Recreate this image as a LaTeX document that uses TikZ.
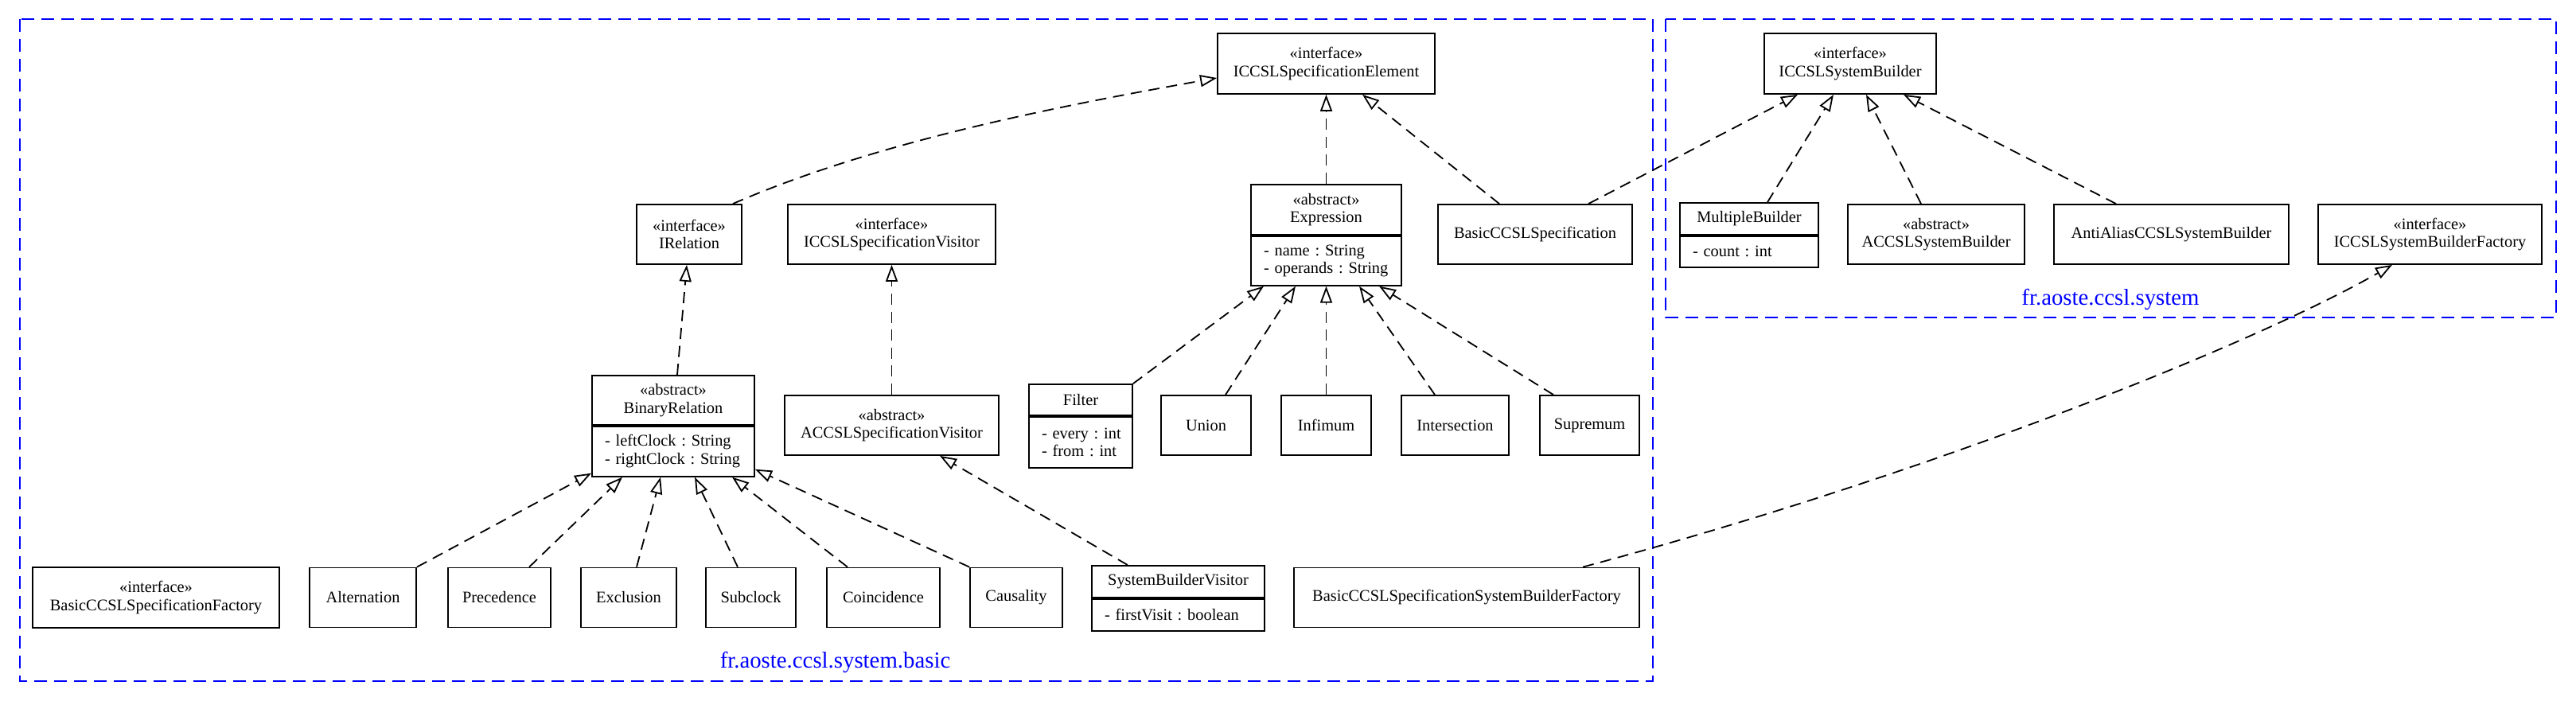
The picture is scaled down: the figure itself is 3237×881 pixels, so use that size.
\documentclass[tikz,border=0pt]{standalone}
\usepackage{fontspec}
\setmainfont{Liberation Serif}
\usetikzlibrary{arrows.meta,positioning}

\begin{document}
\begin{tikzpicture}[x=0.5pt,y=-0.5pt,
    font=\fontsize{10.2}{11.3}\selectfont,
    cls/.style={draw,line width=0.9pt,inner sep=0pt,align=center,minimum height=37.5pt},
    attrs/.style={draw,line width=0.9pt,inner xsep=8pt,inner ysep=0pt,align=left,
      execute at begin node={\hyphenpenalty=10000\exhyphenpenalty=10000\hbadness=10000\hfuzz=30pt}},
    pkg/.style={draw=blue,line width=0.9pt,dash pattern=on 8pt off 4.5pt},
    pkgname/.style={text=blue,font=\fontsize{14.4}{16}\selectfont},
    impl/.style={line width=0.9pt,dash pattern=on 7pt off 4.3pt,
      -{Triangle[open,length=10.5pt,width=7.5pt]}}]
  \useasboundingbox (0,0) rectangle (3237,881);

  % packages
  \draw[pkg] (25,24) rectangle (2077,856);
  \draw[pkg] (2093,24) rectangle (3212,399);
  \node[pkgname] (basicname) at (1049.5,832) {fr.aoste.ccsl.system.basic};
  \node[pkgname] (sysname) at (2652,376) {fr.aoste.ccsl.system};

  % classes
  \path
    (1666.5,80) node[cls,minimum width=136.5pt,minimum height=38pt] (elem) {«interface»\\ICCSLSpecificationElement}
    (2325,80) node[cls,minimum width=108pt,minimum height=38pt] (sysb) {«interface»\\ICCSLSystemBuilder}
    (866,294.5) node[cls,minimum width=66pt] (irel) {«interface»\\IRelation}
    (1120.5,294.5) node[cls,minimum width=130.5pt] (visitor) {«interface»\\ICCSLSpecificationVisitor}
    (1666.5,263.5) node[cls,minimum width=94.5pt,minimum height=31.5pt] (expr) {«abstract»\\Expression}
    (1929,294.5) node[cls,minimum width=122pt] (bspec) {BasicCCSLSpecification}
    (2198,275) node[cls,minimum width=87pt,minimum height=20pt] (multi) {MultipleBuilder}
    (2433,294.5) node[cls,minimum width=111pt] (acsb) {«abstract»\\ACCSLSystemBuilder}
    (2728.5,294.5) node[cls,minimum width=147.5pt] (anti) {AntiAliasCCSLSystemBuilder}
    (3053.5,294.5) node[cls,minimum width=140.5pt] (sbf) {«interface»\\ICCSLSystemBuilderFactory}
    (846,503) node[cls,minimum width=102pt,minimum height=31pt] (binrel) {«abstract»\\BinaryRelation}
    (1120.5,534.5) node[cls,minimum width=134.5pt] (avisitor) {«abstract»\\ACCSLSpecificationVisitor}
    (1358,502.5) node[cls,minimum width=65pt,minimum height=19.5pt] (filter) {Filter}
    (1515.5,534.5) node[cls,minimum width=56.5pt] (union) {Union}
    (1666.5,534.5) node[cls,minimum width=56.5pt] (infimum) {Infimum}
    (1828.5,534.5) node[cls,minimum width=67.5pt] (inter) {Intersection}
    (1997.5,534.5) node[cls,minimum width=62.5pt] (supremum) {Supremum}
    (196,751) node[cls,minimum width=155pt,minimum height=38pt] (bfactory) {«interface»\\BasicCCSLSpecificationFactory}
    (456,751) node[cls,minimum width=67pt] (alt) {Alternation}
    (627.5,751) node[cls,minimum width=64.5pt] (prec) {Precedence}
    (790,751) node[cls,minimum width=60pt] (excl) {Exclusion}
    (943.5,751) node[cls,minimum width=56.5pt] (subclock) {Subclock}
    (1110,751) node[cls,minimum width=71pt] (coinc) {Coincidence}
    (1277,751) node[cls,minimum width=58pt] (causal) {Causality}
    (1480.5,731) node[cls,minimum width=108.5pt,minimum height=20pt] (sbvisitor) {SystemBuilderVisitor}
    (1843,751) node[cls,minimum width=217pt] (bsbf) {BasicCCSLSpecificationSystemBuilderFactory};

  % attribute compartments
  \node[attrs,text width=78.5pt,minimum height=31pt,below=0pt of expr] (exprattr) {-~name~:~String\\-~operands~:~String};
  \node[attrs,text width=71pt,minimum height=19.5pt,below=0pt of multi] (multiattr) {-~count~:~int};
  \node[attrs,text width=86pt,minimum height=31.5pt,below=0pt of binrel] (brattr) {-~leftClock~:~String\\-~rightClock~:~String};
  \node[attrs,text width=49pt,minimum height=32pt,below=0pt of filter] (filterattr) {-~every~:~int\\-~from~:~int};
  \node[attrs,text width=92.5pt,minimum height=20pt,below=0pt of sbvisitor] (sbvattr) {-~firstVisit~:~boolean};

  \begin{scope}[impl]
    \draw ([xshift=-6pt]irel.north east) .. controls (1103,177) and (1333,133) .. ([yshift=-9pt]elem.west);
    \draw (expr.north) -- (elem.south);
    \draw ([xshift=-22.5pt]bspec.north) -- ([xshift=22.75pt]elem.south);
    \draw ([xshift=33.5pt]bspec.north) -- ([xshift=-33pt]sysb.south);
    \draw ([xshift=11.5pt]multi.north) -- ([xshift=-10.5pt]sysb.south);
    \draw ([xshift=-9.5pt]acsb.north) -- ([xshift=10pt]sysb.south);
    \draw ([xshift=-34.75pt]anti.north) -- ([xshift=33.5pt]sysb.south);
    \draw ([xshift=73pt]bsbf.north) .. controls (2424,596.5) and (2833,432) .. ([xshift=-23.75pt]sbf.south);
    \draw ([xshift=2.5pt]binrel.north) -- ([xshift=-1.5pt]irel.south);
    \draw (avisitor.north) -- (visitor.south);
    \draw (filter.north east) -- ([xshift=-39.25pt]exprattr.south);
    \draw ([xshift=12.25pt]union.north) -- ([xshift=-19.25pt]exprattr.south);
    \draw (infimum.north) -- (exprattr.south);
    \draw ([xshift=-12.75pt]inter.north) -- ([xshift=20.75pt]exprattr.south);
    \draw ([xshift=-22.75pt]supremum.north) -- ([xshift=33.25pt]exprattr.south);
    \draw (alt.north east) -- ([yshift=2.5pt]brattr.south west);
    \draw ([xshift=18.75pt]prec.north) -- ([xshift=-32pt]brattr.south);
    \draw ([xshift=5pt]excl.north) -- ([xshift=-8pt]brattr.south);
    \draw ([xshift=-8.25pt]subclock.north) -- ([xshift=13.5pt]brattr.south);
    \draw ([xshift=-22.5pt]coinc.north) -- ([xshift=37pt]brattr.south);
    \draw (causal.north west) -- ([yshift=-11.25pt]brattr.east);
    \draw ([xshift=-31.75pt]sbvisitor.north) -- ([xshift=30.25pt]avisitor.south);
  \end{scope}
\end{tikzpicture}
\end{document}
